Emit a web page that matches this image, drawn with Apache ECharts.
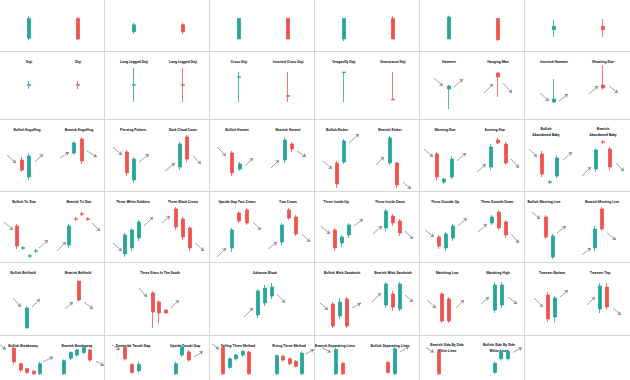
<!DOCTYPE html>
<html><head><meta charset="utf-8">
<script src="https://cdn.jsdelivr.net/npm/echarts@6/dist/echarts.min.js"></script>
<style>html,body{margin:0;padding:0;background:#fff}#c{width:630px;height:380px}</style>
</head><body><div id="c"></div>
<script>
// Each candle: [time, open, close, low, high]   (price units, local to its panel)
// Each arrow:  [time1, price1, time2, price2]
// ---- top (cut) row ----
const bullishLong = [[29,18,46,15,49]];
const bearishLong = [[78,46,17,15,48]];
const bullishShort = [[29,27,37,24,40]];
const bearishShort = [[78,37,27,24,40]];
const bullishMarubozu = [[29,17,46,17,46]];
const bearishMarubozu = [[78,46,17,17,46]];
const bullishClosing = [[29,17,46,14,46]];
const bearishClosing = [[78,46,17,17,49]];
const bullishOpening = [[29,17,48,17,50]];
const bearishOpening = [[78,46,16,14,46]];
const bullishSpinning = [[29,30,35,20,44]];
const bearishSpinning = [[78,35,30,20,45]];
// ---- row 1 ----
const dojiUp = [[29,37.7,38.3,34,42]];
const dojiDown = [[78,38.3,37.7,34,42]];
const longLeggedUp = [[29,37.7,38.3,21,55]];
const longLeggedDown = [[78,38.3,37.7,21,55]];
const crossDoji = [[29,45.7,46.3,21,51]];
const invertedCrossDoji = [[78,27.3,26.7,21,51]];
const dragonflyDoji = [[29,50.4,51,21,51]];
const gravestoneDoji = [[78,23.6,23,23,51]];
const hammer = [[29,34,37,14,38]];
const hammerArrows = [[14,45,23,37],[34,36,43,44]];
const hangingMan = [[78,50,46,26,51]];
const hangingManArrows = [[64,30,73,39],[83,40,92,30]];
const invertedHammer = [[29,21,24,20,44]];
const invertedHammerArrows = [[15,30,24,22],[34,22,43,29]];
const shootingStar = [[78,38,35,33,58]];
const shootingStarArrows = [[64,29,73,37],[84,37,93,30]];
// ---- row 2 ----
const bullishEngulfing = [[22,31,21,19,34],[29,14,35,11,38]];
const bullishEngulfingArrows = [[7,36,16,28],[35,29,43,37]];
const bearishEngulfing = [[74,38,48,36,50],[82,52,30,27,54]];
const bearishEngulfingArrows = [[60,33,69,39],[87,40,97,34]];
const piercingPattern = [[22,39,18,15,41],[29,11,32,8,34]];
const piercingPatternArrows = [[8,44,17,36],[34,29,44,37]];
const darkCloudCover = [[75,24,47,21,49],[82,54,32,29,56]];
const darkCloudCoverArrows = [[60,20,70,28],[88,35,96,27]];
const bullishHarami = [[22,38,18,15,40],[30,22,27,20,29]];
const bullishHaramiArrows = [[7,44,16,35],[35,25,43,33]];
const bearishHarami = [[75,31,51,28,54],[82,47,42,39,49]];
const bearishHaramiArrows = [[61,23,69,31],[87,40,96,34]];
const bullishKicker = [[22,28,7,3,30],[29,29,50,27,52]];
const bullishKickerArrows = [[8,30,17,22],[34,48,44,57]];
const bearishKicker = [[75,28,53,26,55],[82,28,6,3,29]];
const bearishKickerArrows = [[61,26,69,34],[88,9,96,2]];
const morningStar = [[17,37,14,11,39],[24,9,12,7,13],[32,14,32,12,35]];
const morningStarArrows = [[4,42,13,34],[37,30,46,38]];
const eveningStar = [[71,24,44,21,47],[78,51,48,47,53],[86,47,28,26,49]];
const eveningStarArrows = [[57,19,66,27],[91,32,99,23]];
const bullishAbandonedBaby = [[17,37,17,14,40],[25,8.7,9.3,7,11],[32,15,33,13,36]];
const bullishAbandonedBabyArrows = [[4,42,12,34],[38,31,47,39]];
const bearishAbandonedBaby = [[71,22,41,19,43],[78,49.3,48.7,47,51],[85,42,24,21,44]];
const bearishAbandonedBabyArrows = [[57,15,66,24],[91,28,99,20]];
// ---- row 3 ----
const bullishTriStar = [[17,37,17,14,39],[23,14.7,15.3,13,17],[30,6.7,7.3,5,9],[36,11.7,12.3,10,14]];
const bullishTriStarArrows = [[4,41,13,33],[39,15,48,23]];
const bearishTriStar = [[69,18,37,15,39],[76,44.3,43.7,42,46],[82,49.3,48.7,47,51],[88,44.3,43.7,42,46]];
const bearishTriStarArrows = [[57,12,66,21],[92,40,100,32]];
const threeWhiteSoldiers = [[20,9,28,6,30],[27,15,33,12,35],[34,25,41,22,43]];
const threeWhiteSoldiersArrows = [[8,20,17,12],[39,37,48,46]];
const threeBlackCrows = [[71,54,36,33,56],[78,44,26,23,46],[85,35,15,12,37]];
const threeBlackCrowsArrows = [[57,40,65,47],[90,20,99,12]];
const upsideGapTwoCrows = [[22,15,33,11,35],[29,50,42,40,52],[37,53,40,38,55]];
const upsideGapTwoCrowsArrows = [[7,6,16,15],[43,41,51,33]];
const twoCrows = [[72,21,38,18,40],[79,53,45,43,55],[86,46,29,27,48]];
const twoCrowsArrows = [[58,14,67,21],[92,29,100,21]];
const threeInsideUp = [[20,33,15,12,35],[27,20,26,16,28],[34,28,38,25,40]];
const threeInsideUpArrows = [[6,37,15,29],[39,37,48,44]];
const threeInsideDown = [[71,35,52,32,54],[78,47,40,37,49],[85,42,30,27,44]];
const threeInsideDownArrows = [[58,29,67,37],[90,32,98,24]];
const threeOutsideUp = [[19,26,17,14,28],[26,15,29,12,31],[33,25,37,22,39]];
const threeOutsideUpArrows = [[5,33,14,26],[38,37,47,45]];
const threeOutsideDown = [[72,40,46,38,48],[79,51,35,33,53],[86,41,28,25,43]];
const threeOutsideDownArrows = [[58,31,67,39],[91,29,99,20]];
const bullishMeetingLine = [[21,46,26,24,48],[28,6,27,4,29]];
const bullishMeetingLineArrows = [[7,51,15,44],[32,30,41,37]];
const bearishMeetingLine = [[70,15,34,12,37],[77,54,34,32,56]];
const bearishMeetingLineArrows = [[57,8,66,15],[82,30,91,23]];
// ---- row 4 ----
const bullishBelthold = [[27,6,26,6,28]];
const bullishBeltholdArrows = [[13,36,21,27],[32,27,40,35]];
const bearishBelthold = [[79,53,34,32,53]];
const bearishBeltholdArrows = [[65,25,73,32],[84,32,93,25]];
const threeStarsInTheSouth = [[48,41,22,6,43],[54,32,21,11,34],[61,24,21,21,24]];
const threeStarsInTheSouthArrows = [[34,46,42,37],[66,26,74,34]];
const advanceBlock = [[48,19,43,16,45],[55,31,46,28,49],[62,38,47,35,51]];
const advanceBlockArrows = [[34,17,43,26],[67,40,75,31]];
const bullishWickSandwich = [[18,30,8,6,32],[25,18,32,15,36],[32,35,8,6,37]];
const bullishWickSandwichArrows = [[5,31,13,24],[37,26,46,31]];
const bearishWickSandwich = [[71,29,50,26,52],[78,40,27,23,43],[85,25,50,23,52]];
const bearishWickSandwichArrows = [[57,32,66,41],[90,39,98,32]];
const matchingLow = [[22,40,13,11,42],[29,35,13,11,37]];
const matchingLowArrows = [[7,34,16,26],[36,26,44,34]];
const matchingHigh = [[75,24,49,21,52],[82,29,49,26,52]];
const matchingHighArrows = [[61,30,69,37],[88,37,97,30]];
const tweezerBottom = [[23,39,15,12,42],[30,17,36,12,38]];
const tweezerBottomArrows = [[9,36,18,27],[35,37,43,44]];
const tweezerTop = [[75,25,48,21,51],[82,47,27,24,51]];
const tweezerTopArrows = [[62,29,70,37],[88,26,96,19]];
// ---- row 5 (cut) ----
const bullishBreakaway = [[14,51,29,25,53],[21,26,16,13,28],[27,18,12,10,20],[34,14,10,8,16],[40,10,26,8,29]];
const bullishBreakawayArrows = [[0,56,6,49],[43,29,53,37]];
const bearishBreakaway = [[64,10,31,8,33],[71,35,44,32,46],[77,40,48,37,50],[84,44,52,41,55],[90,48,32,29,50]];
const bearishBreakawayArrows = [[96,30,104,23]];
const downsideTasukiGap = [[20,52,34,31,54],[27,25,12,10,27],[34,15,25,12,29]];
const downsideTasukiGapArrows = [[7,56,15,48]];
const upsideTasukiGap = [[71,10,26,8,29],[77,40,53,37,56],[84,45,32,29,48]];
const upsideTasukiGapArrows = [[89,37,98,46]];
const fallingThreeMethod = [[13,52,10,8,54],[20,20,34,18,36],[26,34,40,31,42],[33,40,46,37,48],[39,45,10,8,47]];
const fallingThreeMethodArrows = [[2,58,9,49]];
const risingThreeMethod = [[67,10,39,8,41],[73,38,32,29,40],[80,34,26,24,36],[86,30,22,20,32],[92,10,43,8,46]];
const risingThreeMethodArrows = [[95,41,104,49]];
const bearishSeparatingLines = [[21,10,49,8,52],[28,27,10,8,29]];
const bearishSeparatingLinesArrows = [[7,52,16,44]];
const bullishSeparatingLines = [[73,28,12,10,31],[80,10,50,8,53]];
const bullishSeparatingLinesArrows = [[85,45,94,54]];
const bearishSideBySide = [[19,46,10,8,48]];
const bearishSideBySideArrows = [[6,52,14,44]];
const bullishSideBySide = [[75,12,27,10,29],[81,34,46,31,49],[88,34,46,31,49]];
const bullishSideBySideArrows = [[93,44,102,52]];

// Panel layout: [row, col, [[title, titleX, candles, arrows], ...]]
const panels = [
 [0,0,[[null,0,bullishLong,[]],[null,0,bearishLong,[]]]],
 [0,1,[[null,0,bullishShort,[]],[null,0,bearishShort,[]]]],
 [0,2,[[null,0,bullishMarubozu,[]],[null,0,bearishMarubozu,[]]]],
 [0,3,[[null,0,bullishClosing,[]],[null,0,bearishClosing,[]]]],
 [0,4,[[null,0,bullishOpening,[]],[null,0,bearishOpening,[]]]],
 [0,5,[[null,0,bullishSpinning,[]],[null,0,bearishSpinning,[]]]],
 [1,0,[['Doji',29,dojiUp,[]],['Doji',78,dojiDown,[]]]],
 [1,1,[['Long Legged Doji',29,longLeggedUp,[]],['Long Legged Doji',78,longLeggedDown,[]]]],
 [1,2,[['Cross Doji',29,crossDoji,[]],['Inverted Cross Doji',78,invertedCrossDoji,[]]]],
 [1,3,[['Dragonfly Doji',29,dragonflyDoji,[]],['Gravestone Doji',78,gravestoneDoji,[]]]],
 [1,4,[['Hammer',29,hammer,hammerArrows],['Hanging Man',78,hangingMan,hangingManArrows]]],
 [1,5,[['Inverted Hammer',29,invertedHammer,invertedHammerArrows],['Shooting Star',78,shootingStar,shootingStarArrows]]],
 [2,0,[['Bullish Engulfing',27,bullishEngulfing,bullishEngulfingArrows],['Bearish Engulfing',79,bearishEngulfing,bearishEngulfingArrows]]],
 [2,1,[['Piercing Pattern',28,piercingPattern,piercingPatternArrows],['Dark Cloud Cover',78,darkCloudCover,darkCloudCoverArrows]]],
 [2,2,[['Bullish Harami',27,bullishHarami,bullishHaramiArrows],['Bearish Harami',78,bearishHarami,bearishHaramiArrows]]],
 [2,3,[['Bullish Kicker',22,bullishKicker,bullishKickerArrows],['Bearish Kicker',75,bearishKicker,bearishKickerArrows]]],
 [2,4,[['Morning Star',25,morningStar,morningStarArrows],['Evening Star',75,eveningStar,eveningStarArrows]]],
 [2,5,[['Bullish\nAbandoned Baby',21,bullishAbandonedBaby,bullishAbandonedBabyArrows],['Bearish\nAbandoned Baby',78,bearishAbandonedBaby,bearishAbandonedBabyArrows]]],
 [3,0,[['Bullish Tri Star',24,bullishTriStar,bullishTriStarArrows],['Bearish Tri Star',79,bearishTriStar,bearishTriStarArrows]]],
 [3,1,[['Three White Soldiers',28,threeWhiteSoldiers,threeWhiteSoldiersArrows],['Three Black Crows',78,threeBlackCrows,threeBlackCrowsArrows]]],
 [3,2,[['Upside Gap Two Crows',27,upsideGapTwoCrows,upsideGapTwoCrowsArrows],['Two Crows',78,twoCrows,twoCrowsArrows]]],
 [3,3,[['Three Inside Up',21,threeInsideUp,threeInsideUpArrows],['Three Inside Down',75,threeInsideDown,threeInsideDownArrows]]],
 [3,4,[['Three Outside Up',25,threeOutsideUp,threeOutsideUpArrows],['Three Outside Down',77,threeOutsideDown,threeOutsideDownArrows]]],
 [3,5,[['Bullish Meeting Line',19,bullishMeetingLine,bullishMeetingLineArrows],['Bearish Meeting Line',77,bearishMeetingLine,bearishMeetingLineArrows]]],
 [4,0,[['Bullish Belthold',23,bullishBelthold,bullishBeltholdArrows],['Bearish Belthold',78,bearishBelthold,bearishBeltholdArrows]]],
 [4,1,[['Three Stars In The South',55,threeStarsInTheSouth,threeStarsInTheSouthArrows]]],
 [4,2,[['Advance Block',55,advanceBlock,advanceBlockArrows]]],
 [4,3,[['Bullish Wick Sandwich',27,bullishWickSandwich,bullishWickSandwichArrows],['Bearish Wick Sandwich',78,bearishWickSandwich,bearishWickSandwichArrows]]],
 [4,4,[['Matching Low',27,matchingLow,matchingLowArrows],['Matching High',78,matchingHigh,matchingHighArrows]]],
 [4,5,[['Tweezer Bottom',27,tweezerBottom,tweezerBottomArrows],['Tweezer Top',75,tweezerTop,tweezerTopArrows]]],
 [5,0,[['Bullish Breakaway',23,bullishBreakaway,bullishBreakawayArrows],['Bearish Breakaway',77,bearishBreakaway,bearishBreakawayArrows]]],
 [5,1,[['Downside Tasuki Gap',28,downsideTasukiGap,downsideTasukiGapArrows],['Upside Tasuki Gap',80,upsideTasukiGap,upsideTasukiGapArrows]]],
 [5,2,[['Falling Three Method',28,fallingThreeMethod,fallingThreeMethodArrows],['Rising Three Method',79,risingThreeMethod,risingThreeMethodArrows]]],
 [5,3,[['Bearish Separating Lines',20,bearishSeparatingLines,bearishSeparatingLinesArrows],['Bullish Separating Lines',75,bullishSeparatingLines,bullishSeparatingLinesArrows]]],
 [5,4,[['Bearish Side By Side\nWhite Lines',27,bearishSideBySide,bearishSideBySideArrows],['Bullish Side By Side\nWhite Lines',79,bullishSideBySide,bullishSideBySideArrows]]]
];

const ROW_TOPS = [-21, 51, 119, 191, 262, 335];
const DIVIDERS_Y = [51, 119, 191, 262, 335];
const CELL_W = 105, CELL_H = 72;
const UP = '#26a69a', DOWN = '#ef5350';

const grid = [], xAxis = [], yAxis = [], series = [], graphic = [];
panels.forEach(([row, col, pats], i) => {
  const top = ROW_TOPS[row], left = col * CELL_W;
  grid.push({left, top, width: CELL_W, height: CELL_H, show: false});
  xAxis.push({type: 'value', gridIndex: i, min: 0, max: CELL_W, show: false, splitLine: {show: false}});
  yAxis.push({type: 'value', gridIndex: i, min: 0, max: CELL_H, show: false, splitLine: {show: false}});
  const candles = [], arrows = [];
  pats.forEach(([title, tx, cs, ars]) => {
    cs.forEach(c => candles.push(c));
    ars.forEach(a => arrows.push({coords: [[a[0], a[1]], [a[2], a[3]]]}));
    if (title) {
      const two = title.indexOf('\n') >= 0;
      graphic.push({type: 'text', x: left + tx, y: top + (two ? 13 : 11), silent: true,
        style: {text: title, fill: '#222', fontSize: 3.6, fontWeight: 'bold', fontFamily: 'Roboto',
          align: 'center', verticalAlign: 'middle', textAlign: 'center', textVerticalAlign: 'middle', lineHeight: 6}});
    }
  });
  series.push({type: 'candlestick', xAxisIndex: i, yAxisIndex: i, data: candles,
    encode: {x: 0, y: [1, 2, 3, 4]}, barWidth: 4.2, silent: true,
    itemStyle: {color: UP, color0: DOWN, borderColor: UP, borderColor0: DOWN, borderWidth: 0.8}});
  if (arrows.length) series.push({type: 'lines', coordinateSystem: 'cartesian2d', xAxisIndex: i, yAxisIndex: i,
    symbol: ['none', 'arrow'], symbolSize: 3.5, silent: true,
    lineStyle: {color: '#8c8c8c', width: 0.8, opacity: 1}, data: arrows});
});

[1, 2, 3, 4, 5].forEach(k => graphic.push({type: 'line', silent: true, shape: {x1: k * CELL_W - 0.5, y1: 0, x2: k * CELL_W - 0.5, y2: 380}, style: {stroke: '#d6d6d6', lineWidth: 1}}));
DIVIDERS_Y.forEach(y => graphic.push({type: 'line', silent: true, shape: {x1: 0, y1: y + 0.5, x2: 630, y2: y + 0.5}, style: {stroke: '#d6d6d6', lineWidth: 1}}));

const chart = echarts.init(document.getElementById('c'), null, {renderer: 'svg'});
chart.setOption({animation: false, backgroundColor: '#fff', grid, xAxis, yAxis, series, graphic});
</script></body></html>
